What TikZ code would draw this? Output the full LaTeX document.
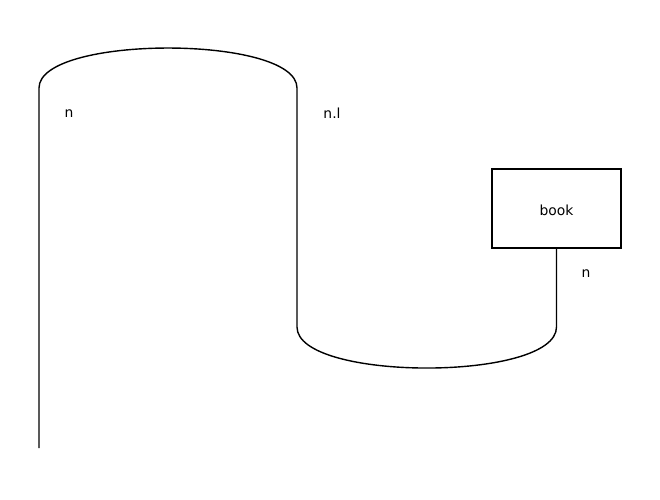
\documentclass[tikz,border=0pt]{standalone}
\usepackage{fontspec}
\setmainfont{DejaVu Sans}
\usetikzlibrary{positioning}

\begin{document}
\begin{tikzpicture}[x=1pt,y=-1pt,line width=1.4pt,
	every node/.style={font=\fontsize{13.9}{16}\selectfont,inner sep=0pt}]

\useasboundingbox (0,0) rectangle (660,499);

% Kasten
\node[draw,line width=1.1pt,minimum width=129pt,minimum height=79pt,text height=13pt,text depth=0pt] (book) at (556.5,208.5) {book};

% Endpunkte der Draehte
\coordinate (unten) at (39,448);
\coordinate (kappeL) at (39,88);
\coordinate (kappeR) at (297,88);
\coordinate (schaleL) at (297,327);
\coordinate (schaleR) at (556.5,327);

\draw (unten) -- (kappeL)
	.. controls +(0,-53.3) and +(0,-53.3) .. (kappeR)
	-- (schaleL)
	.. controls +(0,54.7) and +(0,54.7) .. (schaleR)
	-- (book.south);

% Beschriftungen
\node (labN) at (69,113.5) {n};
\node (labNl) at (332,113.5) {n.l};
\node (labBook) at (586,273.5) {n};

\end{tikzpicture}
\end{document}
